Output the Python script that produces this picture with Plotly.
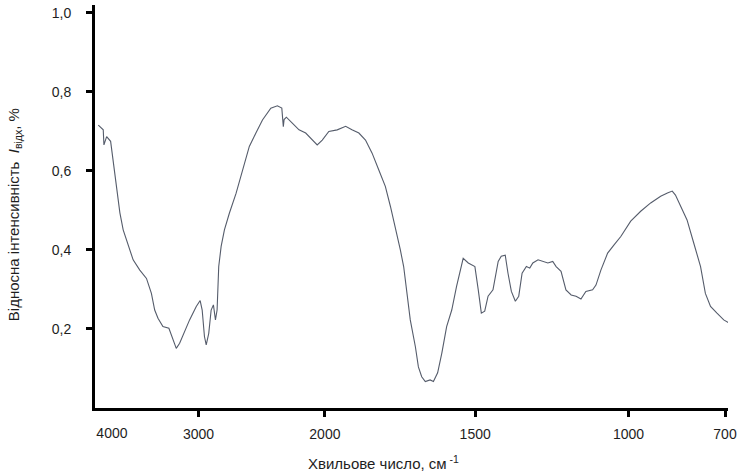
import numpy as np
import plotly.graph_objects as go

# Spectrum (wavenumber, cm^-1 ; relative intensity)
wavenumber = [4157, 4100, 4092, 4061, 4015, 3985, 3946, 3908, 3870, 3813, 3755, 3678, 3601,
              3544, 3506, 3468, 3411, 3342, 3296, 3257, 3218, 3161, 3103, 3026, 2987, 2971,
              2953, 2939, 2919, 2900, 2882, 2866, 2853, 2840, 2821, 2795, 2756, 2703, 2651,
              2598, 2546, 2494, 2428, 2376, 2341, 2329, 2323, 2305, 2258, 2205, 2152, 2100,
              2061, 2021, 1987, 1959, 1931, 1910, 1887, 1865, 1843, 1821, 1799, 1782, 1766,
              1749, 1738, 1727, 1716, 1699, 1689, 1678, 1666, 1650, 1639, 1625, 1611, 1595,
              1578, 1562, 1547, 1540, 1523, 1512, 1501, 1490, 1480, 1469, 1458, 1442, 1425,
              1415, 1402, 1393, 1382, 1369, 1358, 1347, 1333, 1322, 1312, 1295, 1279, 1263,
              1247, 1236, 1220, 1204, 1187, 1171, 1155, 1139, 1117, 1106, 1090, 1068, 1047,
              1025, 993, 962, 931, 900, 879, 864, 854, 838, 818, 797, 776, 761, 745, 725,
              704, 684]
intensity = [0.716, 0.704, 0.666, 0.687, 0.675, 0.620, 0.552, 0.494, 0.451, 0.413, 0.375,
             0.349, 0.328, 0.290, 0.248, 0.227, 0.206, 0.202, 0.172, 0.151, 0.164, 0.194,
             0.223, 0.257, 0.272, 0.248, 0.181, 0.160, 0.189, 0.248, 0.261, 0.223, 0.248,
             0.358, 0.409, 0.451, 0.493, 0.543, 0.603, 0.662, 0.696, 0.729, 0.759, 0.765,
             0.759, 0.712, 0.730, 0.736, 0.721, 0.704, 0.696, 0.678, 0.666, 0.678, 0.700,
             0.704, 0.713, 0.704, 0.696, 0.678, 0.645, 0.603, 0.561, 0.510, 0.459, 0.400,
             0.358, 0.290, 0.223, 0.155, 0.104, 0.079, 0.067, 0.071, 0.067, 0.089, 0.139,
             0.206, 0.248, 0.308, 0.358, 0.379, 0.367, 0.362, 0.358, 0.299, 0.240, 0.245,
             0.283, 0.299, 0.371, 0.384, 0.387, 0.341, 0.295, 0.270, 0.283, 0.341, 0.358,
             0.354, 0.367, 0.375, 0.371, 0.367, 0.371, 0.358, 0.346, 0.299, 0.286, 0.283,
             0.276, 0.295, 0.299, 0.311, 0.349, 0.392, 0.413, 0.434, 0.473, 0.498, 0.519,
             0.536, 0.544, 0.549, 0.539, 0.510, 0.476, 0.417, 0.358, 0.290, 0.257, 0.240,
             0.223, 0.214]

x_tick_values = [3000, 2000, 1500, 1000, 700]
x_tick_labels = ["3000", "2000", "1500", "1000", "700"]
x_first_value = [4000]
x_first_label = ["4000"]
y_tick_values = [0.2, 0.4, 0.6, 0.8, 1.0]
y_tick_labels = ["0,2", "0,4", "0,6", "0,8", "1,0"]

# Piecewise (non-uniform) wavenumber scale of the original figure
AXIS_WN = np.array([4195, 4000, 3000, 2000, 1500, 1000, 700, 680], dtype=float)
AXIS_POS = np.array([95, 112, 199, 326, 477, 631, 728, 734], dtype=float)


def scale(w):
    w = np.asarray(w, dtype=float)
    return np.interp(-w, -AXIS_WN, AXIS_POS)


FONT = "Liberation Sans, Arial, sans-serif"
TXT = "#1e1e1e"

fig = go.Figure()
fig.add_trace(go.Scatter(
    x=scale(wavenumber), y=intensity, mode="lines",
    line=dict(color="#555c6b", width=1.1), showlegend=False, hoverinfo="skip"))
# invisible trace on the secondary axis so it renders
fig.add_trace(go.Scatter(x=scale(x_first_value), y=[None], xaxis="x2",
                         mode="lines", showlegend=False, hoverinfo="skip"))

fig.update_layout(
    width=742, height=473,
    margin=dict(l=95, r=11, t=5, b=65),
    paper_bgcolor="white", plot_bgcolor="white",
    font=dict(family=FONT, size=14, color=TXT),
    xaxis=dict(range=[95, 731], showgrid=False, zeroline=False,
               showline=True, linecolor="black", linewidth=3,
               ticks="outside", ticklen=6, tickwidth=3, tickcolor="black",
               tickvals=list(scale(x_tick_values)), ticktext=x_tick_labels,
               ticklabelstandoff=5, tickfont=dict(size=14, color=TXT)),
    xaxis2=dict(range=[95, 731], overlaying="x", side="bottom", showgrid=False,
                zeroline=False, showline=False, ticks="",
                tickvals=list(scale(x_first_value)), ticktext=x_first_label,
                ticklabelstandoff=15, tickfont=dict(size=14, color=TXT)),
    yaxis=dict(range=[0, 1.02], showgrid=False, zeroline=False,
               showline=True, linecolor="black", linewidth=3,
               ticks="outside", ticklen=6, tickwidth=3, tickcolor="black",
               tickvals=y_tick_values, ticktext=y_tick_labels,
               ticklabelstandoff=12, tickfont=dict(size=14, color=TXT)),
    annotations=[
        dict(text="Хвильове число, см<sup> -1</sup>", xref="paper", yref="paper",
             x=0.456, y=-0.136, yanchor="middle", xanchor="center", showarrow=False,
             font=dict(size=15, color=TXT)),
        dict(text="Відносна інтенсивність  <i>I</i><sub>відх</sub>, %", xref="paper",
             yref="paper", x=-0.126, y=0.479, textangle=-90, xanchor="center",
             yanchor="middle", showarrow=False, font=dict(size=15, color=TXT)),
    ],
)

fig.write_html("out.html", config={"displayModeBar": False},
               post_script="document.body.style.margin='0';document.body.style.padding='0';")
